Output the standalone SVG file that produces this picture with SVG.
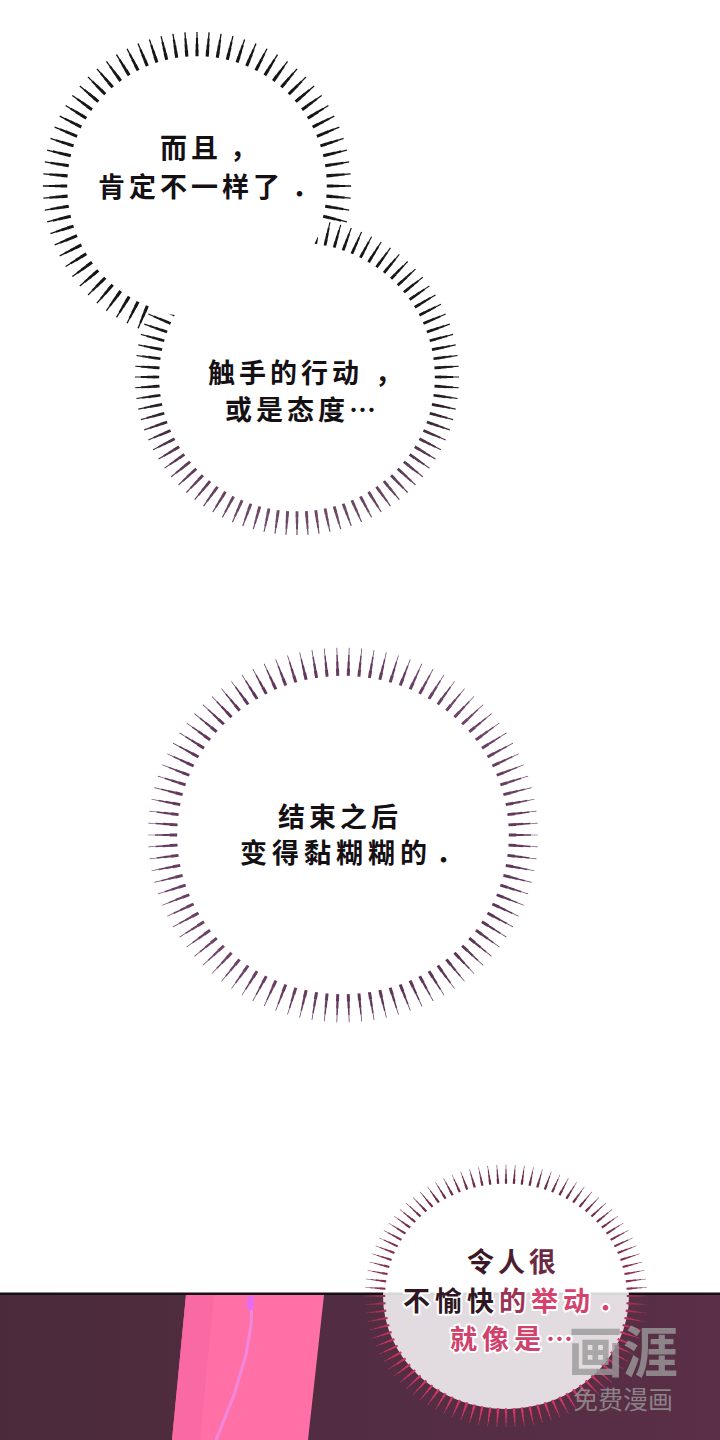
<svg xmlns="http://www.w3.org/2000/svg" width="720" height="1440" viewBox="0 0 720 1440">
<style>
.t{font-family:"Noto Sans CJK SC","Noto Sans CJK JP",sans-serif;font-weight:700;font-size:27px;fill:#141014;letter-spacing:4px}
.rg circle{fill:none}
.a{stroke-dasharray:0.28 0.72;stroke-dashoffset:0.14}
.b{stroke-dasharray:0.2 0.8;stroke-dashoffset:0.1}
.c{stroke-dasharray:0.13 0.87;stroke-dashoffset:0.065}
.d{stroke-dasharray:0.06 0.94;stroke-dashoffset:0.03}
.bk .a{stroke-dasharray:0.3 0.7;stroke-dashoffset:0.15}
.bk .b{stroke-dasharray:0.25 0.75;stroke-dashoffset:0.125}
.bk .c{stroke-dasharray:0.19 0.81;stroke-dashoffset:0.095}
.bk .d{stroke-dasharray:0.11 0.89;stroke-dashoffset:0.055}
.o{stroke:#fff;stroke-width:4px;stroke-linejoin:round;paint-order:stroke}
.wm{font-family:"Noto Sans CJK SC",sans-serif;fill:#9a9a9a;fill-opacity:0.8}
</style>
<defs>
<linearGradient id="g2" x1="0" y1="0" x2="0" y2="1">
<stop offset="0" stop-color="#151515"/>
<stop offset="0.55" stop-color="#1c1a1c"/>
<stop offset="0.75" stop-color="#55354f"/>
<stop offset="1" stop-color="#6e4a68"/>
</linearGradient>
<linearGradient id="g3" x1="0" y1="0" x2="1" y2="1">
<stop offset="0" stop-color="#5a3055"/>
<stop offset="0.5" stop-color="#6e4468"/>
<stop offset="1" stop-color="#55304f"/>
</linearGradient>
<linearGradient id="g4" x1="0" y1="0" x2="0" y2="1">
<stop offset="0" stop-color="#6a2a4a"/>
<stop offset="0.45" stop-color="#8a3052"/>
<stop offset="0.7" stop-color="#c8325f"/>
<stop offset="1" stop-color="#d83468"/>
</linearGradient>
<linearGradient id="bg" x1="0" y1="0" x2="1" y2="0">
<stop offset="0" stop-color="#4b2b3b"/>
<stop offset="1" stop-color="#5a2f47"/>
</linearGradient>
<mask id="m1" maskUnits="userSpaceOnUse" x="0" y="0" width="720" height="720">
<rect x="0" y="0" width="720" height="720" fill="#fff"/>
<ellipse cx="297" cy="377" rx="159" ry="155" fill="#000"/>
</mask>
<mask id="m2" maskUnits="userSpaceOnUse" x="0" y="0" width="720" height="720">
<rect x="0" y="0" width="720" height="720" fill="#fff"/>
<circle cx="197" cy="186" r="131" fill="#000"/>
</mask>
</defs>
<rect width="720" height="1440" fill="#fff"/>

<g id="bubble1">
<g mask="url(#m1)">
<g class="rg bk" transform="translate(197,186)" stroke="#151515">
<circle class="a" r="133" stroke-width="6.4" pathLength="80"/>
<circle class="b" r="139" stroke-width="6.4" pathLength="80"/>
<circle class="c" r="145" stroke-width="6.4" pathLength="80"/>
<circle class="d" r="151" stroke-width="6.2" pathLength="80"/>
</g>
</g>
<text class="t" x="160" y="158">而且<tspan dx="8">，</tspan></text>
<text class="t" x="98" y="197">肯定不一样了<tspan dx="8">．</tspan></text>
</g>

<g id="bubble2">
<g mask="url(#m2)">
<g class="rg bk" transform="translate(297,377) scale(1,0.975)" stroke="url(#g2)">
<circle class="a" r="141" stroke-width="6.4" pathLength="92"/>
<circle class="b" r="147" stroke-width="6.4" pathLength="92"/>
<circle class="c" r="153" stroke-width="6.4" pathLength="92"/>
<circle class="d" r="159" stroke-width="6.2" pathLength="92"/>
</g>
</g>
<text class="t" x="208" y="383">触手的行动<tspan dx="12">，</tspan></text>
<text class="t" x="225" y="420">或是态度…</text>
</g>

<g id="bubble3">
<g class="rg" transform="translate(343,835) scale(1,0.96)" stroke="url(#g3)">
<circle class="a" r="169.6" stroke-width="7.6" pathLength="98"/>
<circle class="b" r="176.9" stroke-width="7.6" pathLength="98"/>
<circle class="c" r="184.1" stroke-width="7.6" pathLength="98"/>
<circle class="d" r="191.4" stroke-width="7.3" pathLength="98"/>
</g>
<text class="t" x="278" y="827">结束之后</text>
<text class="t" x="240" y="863" style="letter-spacing:5px">变得黏糊糊的<tspan dx="4">．</tspan></text>
</g>

<g id="scene">
<rect x="0" y="1294" width="720" height="146" fill="url(#bg)"/>
<polygon points="186,1295 324,1295 308,1440 172,1440" fill="#ff70a7"/>
<polygon points="186,1295 214,1295 200,1440 172,1440" fill="#f96aa2"/>
<path d="M252,1297 L251,1325 L246,1355 L234,1395 L216,1440" fill="none" stroke="#ea92f2" stroke-width="3" stroke-opacity="0.7"/>
<rect x="247" y="1296" width="7" height="14" rx="3" fill="#e86cf0"/>
<rect x="0" y="1292.5" width="720" height="2.5" fill="#141014"/>
</g>

<g id="bubble4">
<ellipse cx="506" cy="1296" rx="123" ry="113" fill="#fff" fill-opacity="0.83"/>
<g class="rg" transform="translate(506,1296) scale(1,0.93)" stroke="url(#g4)">
<circle class="a" r="123.5" stroke-width="5.4" pathLength="96"/>
<circle class="b" r="128.5" stroke-width="5.4" pathLength="96"/>
<circle class="c" r="133.5" stroke-width="5.4" pathLength="96"/>
<circle class="d" r="138.5" stroke-width="5.2" pathLength="96"/>
</g>
<text class="t" x="467" y="1272"><tspan fill="#3a1826">令</tspan><tspan fill="#4a1e30">人</tspan><tspan fill="#6a2a42">很</tspan></text>
<text class="t o" x="403" y="1311" style="letter-spacing:5px"><tspan fill="#2e1622">不愉快</tspan><tspan fill="#9a3456">的</tspan><tspan fill="#d4436e">举动</tspan><tspan fill="#d4436e" dx="3">．</tspan></text>
<text class="t o" x="450" y="1349" style="letter-spacing:5px;fill:#d0416c">就像是…</text>
</g>

<g id="watermark">
<text class="wm" x="568" y="1372" style="font-size:55px;font-weight:700">画涯</text>
<text class="wm" x="573" y="1409" style="font-size:25px">免费漫画</text>
</g>
</svg>
